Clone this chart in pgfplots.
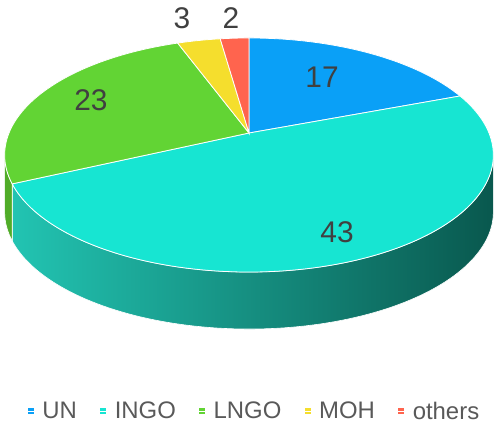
\documentclass[border=0pt]{standalone}
\usepackage{pgfplots}
\usepackage{pgfplotstable}
\pgfplotsset{compat=1.18}
\usepackage{fontspec}
\setmainfont{Liberation Sans}
\definecolor{cUN}{RGB}{10,160,247}
\definecolor{cINGO}{RGB}{23,229,210}
\definecolor{cLNGO}{RGB}{98,212,52}
\definecolor{cMOH}{RGB}{245,222,45}
\definecolor{cOTH}{RGB}{255,100,78}
\definecolor{sLNGO}{RGB}{80,172,40}
\definecolor{sIngoL}{RGB}{34,196,178}
\definecolor{sIngoM}{RGB}{18,128,114}
\definecolor{sIngoR}{RGB}{9,88,78}
\definecolor{lbl}{RGB}{64,64,64}
\definecolor{leg}{RGB}{89,89,89}

\pgfplotstableread{
label value
UN 17
INGO 43
LNGO 23
MOH 3
others 2
}\piedata

\begin{document}
\begin{tikzpicture}[declare function={
 px(\t)=249+240*sin(\t)/(1+0.188*cos(\t));
 py(\t)=133-112.9*cos(\t)/(1+0.188*cos(\t));
}]
\pgfplotstablegetelem{0}{value}\of\piedata \pgfmathsetmacro\vA{\pgfplotsretval}
\pgfplotstablegetelem{1}{value}\of\piedata \pgfmathsetmacro\vB{\pgfplotsretval}
\pgfplotstablegetelem{2}{value}\of\piedata \pgfmathsetmacro\vC{\pgfplotsretval}
\pgfplotstablegetelem{3}{value}\of\piedata \pgfmathsetmacro\vD{\pgfplotsretval}
\pgfplotstablegetelem{4}{value}\of\piedata \pgfmathsetmacro\vE{\pgfplotsretval}
\pgfmathsetmacro\tot{\vA+\vB+\vC+\vD+\vE}
\pgfmathsetmacro\aA{360*\vA/\tot}
\pgfmathsetmacro\aB{\aA+360*\vB/\tot}
\pgfmathsetmacro\aC{\aB+360*\vC/\tot}
\pgfmathsetmacro\aD{\aC+360*\vD/\tot}
\pgfmathsetmacro\sR{90+asin(0.188)}
\pgfmathsetmacro\sL{270-asin(0.188)}
\begin{axis}[at={(0,0)}, anchor=south west, scale only axis,
  width=495bp, height=424bp, xmin=0, xmax=495, ymin=0, ymax=424,
  y dir=reverse, hide axis, clip=false,
  legend columns=-1,
  legend image code/.code={\path[#1,draw=none] (0bp,-3bp) rectangle (6bp,3bp); \path (0bp,0bp) -- (12bp,0bp);},
  legend style={at={(0.514,0.03)}, anchor=center, draw=none, fill=none,
    font=\fontsize{24}{26}\selectfont, text=leg,
    /tikz/every even column/.append style={column sep=21bp}},
]
% sides
\addplot[forget plot, draw=white, line width=0.6pt, left color=sIngoL, middle color=sIngoM, right color=sIngoR,
  domain=0:3, samples=301, variable=\t]
 ({px(\sR+(\aB-\sR)*min(\t,1)-(\aB-\sR)*max(\t-2,0))},
  {py(\sR+(\aB-\sR)*min(\t,1)-(\aB-\sR)*max(\t-2,0))+57*min(max(\t-1,0),1)}) -- cycle;
\addplot[forget plot, draw=white, line width=0.6pt, fill=sLNGO,
  domain=0:3, samples=61, variable=\t]
 ({px(\aB+(\sL-\aB)*min(\t,1)-(\sL-\aB)*max(\t-2,0))},
  {py(\aB+(\sL-\aB)*min(\t,1)-(\sL-\aB)*max(\t-2,0))+57*min(max(\t-1,0),1)}) -- cycle;
% top face
\addplot[fill=cUN, draw=white, line width=0.8pt, domain=0:\aA, samples=60, variable=\t]
 ({px(\t)},{py(\t)}) -- (249,133) -- cycle;
\addlegendentry{UN}
\addplot[fill=cINGO, draw=white, line width=0.8pt, domain=\aA:\aB, samples=120, variable=\t]
 ({px(\t)},{py(\t)}) -- (249,133) -- cycle;
\addlegendentry{INGO}
\addplot[fill=cLNGO, draw=white, line width=0.8pt, domain=\aB:\aC, samples=80, variable=\t]
 ({px(\t)},{py(\t)}) -- (249,133) -- cycle;
\addlegendentry{LNGO}
\addplot[fill=cMOH, draw=white, line width=0.8pt, domain=\aC:\aD, samples=20, variable=\t]
 ({px(\t)},{py(\t)}) -- (249,133) -- cycle;
\addlegendentry{MOH}
\addplot[fill=cOTH, draw=white, line width=0.8pt, domain=\aD:360, samples=20, variable=\t]
 ({px(\t)},{py(\t)}) -- (249,133) -- cycle;
\addlegendentry{others}
% data labels
\node[font=\fontsize{30}{30}\selectfont, text=lbl] at (322,77) {17};
\node[font=\fontsize{30}{30}\selectfont, text=lbl] at (337,232) {43};
\node[font=\fontsize{30}{30}\selectfont, text=lbl] at (91,100) {23};
\node[font=\fontsize{30}{30}\selectfont, text=lbl] at (182,18) {3};
\node[font=\fontsize{30}{30}\selectfont, text=lbl] at (231,18) {2};
\end{axis}
\path (0,0) rectangle (495bp,424bp);
\end{tikzpicture}
\end{document}
